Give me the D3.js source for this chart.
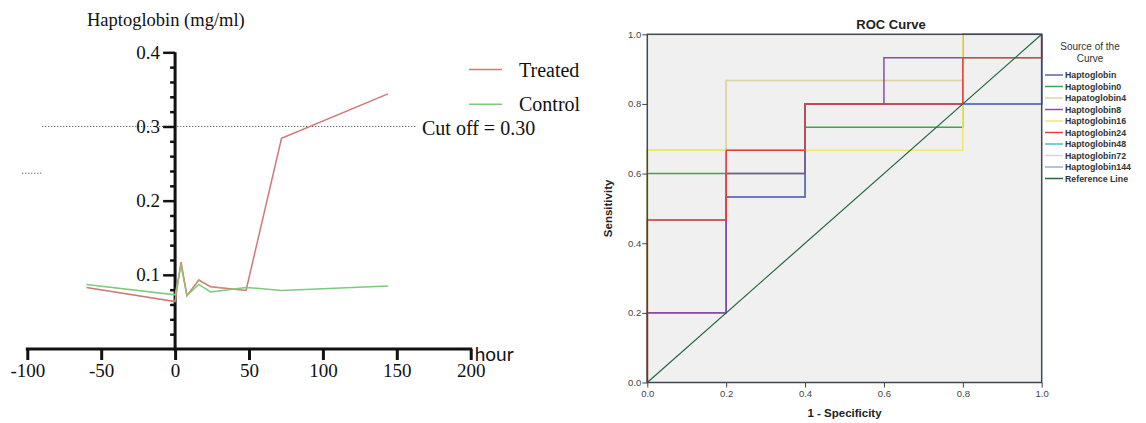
<!DOCTYPE html>
<html><head><meta charset="utf-8">
<script src="https://cdn.jsdelivr.net/npm/d3@7"></script>
<style>body{margin:0;background:#fff}svg{display:block}</style>
</head><body>
<svg id="c" width="1146" height="423"></svg>
<script>
// ---- Left chart data ----
const hours = [-60, 0, 4, 8, 16, 24, 48, 72, 144];
const treated = [0.083, 0.064, 0.117, 0.072, 0.093, 0.084, 0.079, 0.284, 0.344];
const control = [0.087, 0.073, 0.113, 0.072, 0.087, 0.077, 0.083, 0.079, 0.085];
const seriesNames = ["Treated", "Control"];
const xTicks = [-100, -50, 0, 50, 100, 150, 200];
const yTicks = [0.1, 0.2, 0.3, 0.4];
const cutoff = 0.30;
const cutoffLabel = "Cut off = 0.30";
const stubValue = 0.237;

// ---- Right chart (ROC) data ----
const rocNames = ["Haptoglobin","Haptoglobin0","Hapatoglobin4","Haptoglobin8","Haptoglobin16","Haptoglobin24","Haptoglobin48","Haptoglobin72","Haptoglobin144","Reference Line"];
const rocColors = ["#5563b5","#3fa34d","#ddd69c","#8b4ea8","#efe96a","#e4403c","#45c1c8","#d6d6d6","#8fb0de","#23683f"];
const rocCurves = [
  [[0,0],[0,0.2],[0.2,0.2],[0.2,0.533],[0.4,0.533],[0.4,0.8],[1,0.8],[1,1]],
  [[0,0],[0,0.6],[0.4,0.6],[0.4,0.733],[0.8,0.733],[0.8,1],[1,1]],
  [[0,0],[0,0.667],[0.2,0.667],[0.2,0.867],[0.8,0.867],[0.8,1],[1,1]],
  [[0,0],[0,0.2],[0.2,0.2],[0.2,0.6],[0.4,0.6],[0.4,0.8],[0.6,0.8],[0.6,0.933],[0.8,0.933],[0.8,1],[1,1]],
  [[0,0],[0,0.667],[0.8,0.667],[0.8,1],[1,1]],
  [[0,0],[0,0.467],[0.2,0.467],[0.2,0.667],[0.4,0.667],[0.4,0.8],[0.8,0.8],[0.8,0.933],[1,0.933],[1,1]],
  [[0,0],[0,0.467],[0.2,0.467],[0.2,0.667],[0.4,0.667],[0.4,0.8],[0.8,0.8],[0.8,0.933],[1,0.933],[1,1]],
  [[0,0],[0,0.667],[0.2,0.667],[0.2,0.867],[0.8,0.867],[0.8,1],[1,1]],
  [[0,0],[0,0.2],[0.2,0.2],[0.2,0.533],[0.4,0.533],[0.4,0.8],[1,0.8],[1,1]],
  [[0,0],[1,1]]
];
const rocTicks = [0, 0.2, 0.4, 0.6, 0.8, 1.0];
const drawOrder = [6,7,8,0,1,2,3,4,5,9];

const svg = d3.select("#c");
const serif = "'Liberation Serif','Times New Roman',serif";
const sans = "'Liberation Sans',Arial,sans-serif";

// ================= LEFT CHART =================
const x = d3.scaleLinear().domain([-100, 200]).range([27.3, 470.7]);
const y = d3.scaleLinear().domain([0, 0.4]).range([349, 52.3]);
const L = svg.append("g");

L.append("text").attr("x", 87).attr("y", 26).attr("font-family", serif).attr("font-size", 18.5)
  .attr("fill", "#111").text("Haptoglobin (mg/ml)");

L.append("line").attr("x1", x(-90)).attr("x2", x(163)).attr("y1", y(cutoff)).attr("y2", y(cutoff))
  .attr("stroke", "#555").attr("stroke-width", 1).attr("stroke-dasharray", "1.2,1.8");
L.append("line").attr("x1", x(-103.5)).attr("x2", x(-90)).attr("y1", y(stubValue)).attr("y2", y(stubValue))
  .attr("stroke", "#555").attr("stroke-width", 1).attr("stroke-dasharray", "1.2,1.8");
L.append("text").attr("x", 422).attr("y", 135).attr("font-family", serif).attr("font-size", 20)
  .attr("fill", "#111").text(cutoffLabel);

const minor = d3.range(0.02, 0.401, 0.02).filter(v => Math.abs(v*10 - Math.round(v*10)) > 1e-6);
const yMinor = L.append("g").attr("transform", `translate(${x(0)},0)`)
  .call(d3.axisLeft(y).tickValues(minor).tickSize(5).tickFormat(""));
yMinor.select(".domain").remove();
yMinor.selectAll(".tick line").attr("stroke", "#111").attr("stroke-width", 2.5);
const yAx = L.append("g").attr("transform", `translate(${x(0)},0)`)
  .call(d3.axisLeft(y).tickValues(yTicks).tickSize(12).tickSizeOuter(0).tickPadding(3).tickFormat(d3.format(".1f")));
yAx.select(".domain").attr("stroke", "#111").attr("stroke-width", 3).attr("d", `M0,${y(0)+1.5}V${y(0.4)}`);
yAx.selectAll(".tick line").attr("stroke", "#111").attr("stroke-width", 2.5);
yAx.selectAll(".tick text").attr("font-family", serif).attr("font-size", 19).attr("fill", "#111");

const xAx = L.append("g").attr("transform", `translate(0,${y(0)})`)
  .call(d3.axisBottom(x).tickValues(xTicks).tickSize(11).tickSizeOuter(0).tickPadding(4).tickFormat(d => String(d)));
xAx.select(".domain").attr("stroke", "#111").attr("stroke-width", 3).attr("d", `M${x(-100)-1.5},0H${x(200)+1.5}`);
xAx.selectAll(".tick line").attr("stroke", "#111").attr("stroke-width", 3);
xAx.selectAll(".tick text").attr("font-family", serif).attr("font-size", 19).attr("fill", "#111");
L.append("text").attr("x", x(200) + 4).attr("y", y(0) + 12).attr("font-family", "Lato,'Open Sans',sans-serif")
  .attr("font-size", 19).attr("fill", "#111").text("hour");

const line = d3.line().x(d => x(d[0])).y(d => y(d[1]));
const colL = ["#d27677", "#7ccb7a"];
[treated, control].forEach((vals, i) => {
  L.append("path").datum(hours.map((h, k) => [h, vals[k]]))
    .attr("d", line).attr("fill", "none").attr("stroke", colL[i]).attr("stroke-width", 1.5);
});
L.append("path").datum(hours.slice(1, 7).map((h, k) => [h, treated[k + 1]]))
  .attr("d", line).attr("fill", "none").attr("stroke", "#c9a070").attr("stroke-width", 1.2).attr("opacity", 0.5);

const legY = [69.5, 104.3];
seriesNames.forEach((n, i) => {
  L.append("line").attr("x1", 469).attr("x2", 502).attr("y1", legY[i]).attr("y2", legY[i])
    .attr("stroke", colL[i]).attr("stroke-width", 1.5);
  L.append("text").attr("x", 519).attr("y", legY[i] + 7).attr("font-family", serif).attr("font-size", 20)
    .attr("fill", "#111").text(n);
});

// ================= RIGHT CHART =================
const rx = d3.scaleLinear().domain([0, 1]).range([647.3, 1041.7]);
const ry = d3.scaleLinear().domain([0, 1]).range([382.5, 34.3]);
const R = svg.append("g");

R.append("rect").attr("x", rx(0)).attr("y", ry(1)).attr("width", rx(1) - rx(0)).attr("height", ry(0) - ry(1))
  .attr("fill", "#f0f0f0");

const rline = d3.line().x(d => rx(d[0])).y(d => ry(d[1]));
drawOrder.forEach(i => {
  R.append("path").datum(rocCurves[i]).attr("d", rline).attr("fill", "none")
    .attr("stroke", rocColors[i]).attr("stroke-width", i === 9 ? 1.2 : 1.5);
});

R.append("rect").attr("x", rx(0)).attr("y", ry(1)).attr("width", rx(1) - rx(0)).attr("height", ry(0) - ry(1))
  .attr("fill", "none").attr("stroke", "#3d4a50").attr("stroke-width", 1.5);

const fmt = d3.format(".1f");
const rxAx = R.append("g").attr("transform", `translate(0,${ry(0)})`)
  .call(d3.axisBottom(rx).tickValues(rocTicks).tickSize(5).tickPadding(3).tickFormat(fmt));
rxAx.select(".domain").remove();
rxAx.selectAll(".tick line").attr("stroke", "#444");
rxAx.selectAll(".tick text").attr("font-family", sans).attr("font-size", 9.5).attr("fill", "#444");
const ryAx = R.append("g").attr("transform", `translate(${rx(0)},0)`)
  .call(d3.axisLeft(ry).tickValues(rocTicks).tickSize(5).tickPadding(1).tickFormat(fmt));
ryAx.select(".domain").remove();
ryAx.selectAll(".tick line").attr("stroke", "#444");
ryAx.selectAll(".tick text").attr("font-family", sans).attr("font-size", 9.5).attr("fill", "#444");

R.append("text").attr("x", 891).attr("y", 29).attr("text-anchor", "middle").attr("font-family", sans)
  .attr("font-weight", "bold").attr("font-size", 13).attr("fill", "#222").text("ROC Curve");
R.append("text").attr("x", (rx(0) + rx(1)) / 2).attr("y", 417).attr("text-anchor", "middle").attr("font-family", sans)
  .attr("font-weight", "bold").attr("font-size", 11.5).attr("fill", "#222").text("1 - Specificity");
R.append("text").attr("transform", `translate(612,${(ry(0) + ry(1)) / 2}) rotate(-90)`).attr("text-anchor", "middle")
  .attr("font-family", sans).attr("font-weight", "bold").attr("font-size", 11.5).attr("fill", "#222").text("Sensitivity");

R.append("text").attr("x", 1090).attr("y", 50).attr("text-anchor", "middle").attr("font-family", sans)
  .attr("font-size", 10).attr("fill", "#333").text("Source of the");
R.append("text").attr("x", 1090).attr("y", 62).attr("text-anchor", "middle").attr("font-family", sans)
  .attr("font-size", 10).attr("fill", "#333").text("Curve");
rocNames.forEach((n, i) => {
  const yy = 75 + i * 11.5;
  R.append("line").attr("x1", 1045).attr("x2", 1063).attr("y1", yy).attr("y2", yy)
    .attr("stroke", rocColors[i]).attr("stroke-width", 1.5);
  R.append("text").attr("x", 1065).attr("y", yy + 3.2).attr("font-family", sans).attr("font-weight", "bold")
    .attr("font-size", 8.8).attr("fill", "#333").text(n);
});
</script>
</body></html>
